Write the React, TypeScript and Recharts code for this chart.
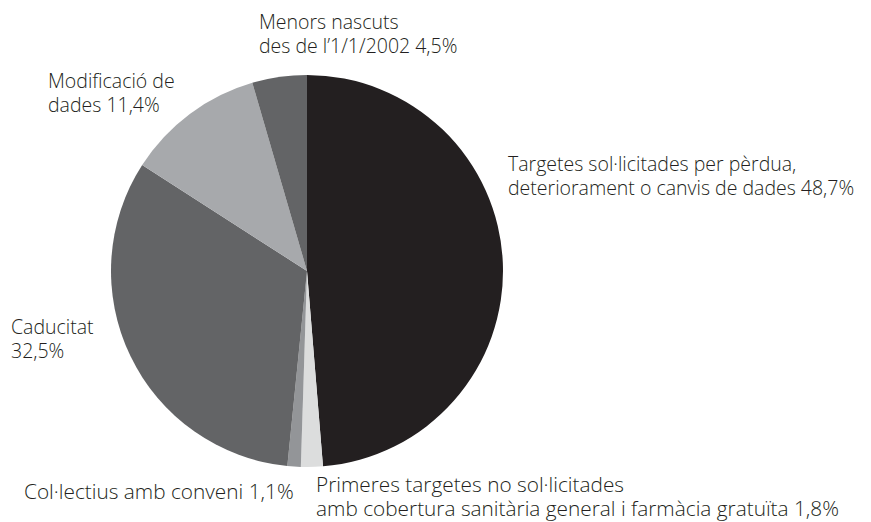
import { PieChart, Pie, Cell } from 'recharts'

const categories = [
  'Targetes sol·licitades per pèrdua, deteriorament o canvis de dades',
  'Primeres targetes no sol·licitades amb cobertura sanitària general i farmàcia gratuïta',
  'Col·lectius amb conveni',
  'Caducitat',
  'Modificació de dades',
  'Menors nascuts des de l’1/1/2002',
]
const values = [48.7, 1.8, 1.1, 32.5, 11.4, 4.5]
const colors = ['#231f20', '#dcdddd', '#939598', '#636466', '#a7a9ac', '#636466']

// label text split into lines, the percentage goes after the last line
const labelLines = [
  ['Targetes sol·licitades per pèrdua,', 'deteriorament o canvis de dades'],
  ['Primeres targetes no sol·licitades', 'amb cobertura sanitària general i farmàcia gratuïta'],
  ['Col·lectius amb conveni'],
  ['Caducitat', ''],
  ['Modificació de', 'dades'],
  ['Menors nascuts', 'des de l’1/1/2002'],
]

// where each label sits (left x, first baseline y, font size)
const labelPos = [
  [508, 171, 19.5],
  [316, 492, 20.8],
  [24, 499, 20.8],
  [11, 334, 19.5],
  [48, 88, 19.5],
  [259, 29, 19.5],
]

const data = categories.map((name, i) => ({ name, value: values[i] }))

const fmt = (v: number) => `${v.toFixed(1).replace('.', ',')}%`

const renderLabel = ({ index, value }: any) => {
  const [x, y, size] = labelPos[index]
  const lines = labelLines[index]
  return (
    <text x={x} y={y} fill="#231f20" fontSize={size} fontWeight={300} fontFamily="'Open Sans', sans-serif">
      {lines.map((line, i) => {
        const last = i === lines.length - 1
        const txt = last ? (line ? `${line} ${fmt(value)}` : fmt(value)) : line
        return (
          <tspan key={i} x={x} dy={i === 0 ? 0 : 24.3}>
            {txt}
          </tspan>
        )
      })}
    </text>
  )
}

export default function App() {
  return (
    <div style={{ position: 'absolute', left: 0, top: 0, width: 871, height: 522, background: '#fff' }}>
      <PieChart width={871} height={522} margin={{ top: 0, right: 0, bottom: 0, left: 0 }}>
        <Pie
          data={data}
          dataKey="value"
          cx={307}
          cy={271}
          outerRadius={196}
          startAngle={90}
          endAngle={-270}
          stroke="none"
          label={renderLabel}
          labelLine={false}
          isAnimationActive={false}
        >
          {data.map((d, i) => (
            <Cell key={d.name} fill={colors[i]} />
          ))}
        </Pie>
      </PieChart>
    </div>
  )
}
